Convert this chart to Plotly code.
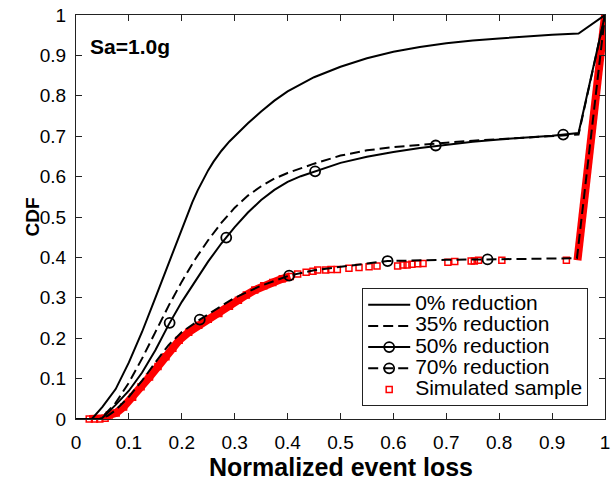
import plotly.graph_objects as go

# ---------------- data ----------------
x0 = [0, 0.03, 0.05, 0.075, 0.1, 0.125, 0.15, 0.175, 0.2, 0.21, 0.22, 0.23, 0.24, 0.25, 0.26,
      0.275, 0.29, 0.3, 0.325, 0.35, 0.375, 0.4, 0.45, 0.5, 0.55, 0.6, 0.65, 0.7, 0.75, 0.8,
      0.85, 0.9, 0.95, 1.0]
y0 = [0, 0, 0.03, 0.074, 0.14, 0.216, 0.30, 0.385, 0.47, 0.505, 0.537, 0.566, 0.593, 0.616, 0.637,
      0.664, 0.687, 0.70, 0.732, 0.761, 0.788, 0.811, 0.846, 0.872, 0.893, 0.909, 0.921, 0.93,
      0.937, 0.942, 0.947, 0.951, 0.954, 1.0]

x35 = [0, 0.045, 0.05, 0.075, 0.1, 0.125, 0.15, 0.175, 0.2, 0.225, 0.25, 0.275, 0.3, 0.325, 0.35,
       0.375, 0.4, 0.425, 0.45, 0.5, 0.55, 0.6, 0.65, 0.7, 0.75, 0.8, 0.85, 0.9, 0.95, 1.0]
y35 = [0, 0, 0.005, 0.04, 0.09, 0.15, 0.215, 0.28, 0.34, 0.395, 0.443, 0.486, 0.523, 0.553, 0.576,
       0.595, 0.609, 0.621, 0.632, 0.652, 0.665, 0.673, 0.679, 0.684, 0.689, 0.693, 0.697, 0.70,
       0.704, 1.0]

x50 = [0, 0.045, 0.05, 0.075, 0.1, 0.125, 0.15, 0.175, 0.2, 0.225, 0.25, 0.275, 0.3, 0.325, 0.35,
       0.375, 0.4, 0.425, 0.45, 0.475, 0.5, 0.55, 0.6, 0.65, 0.7, 0.75, 0.8, 0.85, 0.9, 0.95, 1.0]
y50 = [0, 0, 0.003, 0.035, 0.07, 0.115, 0.17, 0.233, 0.29, 0.34, 0.39, 0.435, 0.475, 0.511, 0.542,
       0.567, 0.587, 0.601, 0.612, 0.624, 0.634, 0.649, 0.661, 0.671, 0.679, 0.686, 0.692, 0.697,
       0.701, 0.708, 1.0]
x50_marks = [0.177, 0.284, 0.452, 0.68, 0.921]
y50_marks = [0.238, 0.449, 0.613, 0.677, 0.704]

x70 = [0, 0.045, 0.06, 0.075, 0.1, 0.125, 0.15, 0.175, 0.2, 0.234, 0.275, 0.3, 0.35, 0.403, 0.45,
       0.5, 0.55, 0.589, 0.65, 0.7, 0.778, 0.85, 0.947, 1.0]
y70 = [0, 0, 0.008, 0.022, 0.055, 0.095, 0.14, 0.183, 0.215, 0.246, 0.28, 0.30, 0.33, 0.355, 0.368,
       0.377, 0.385, 0.391, 0.393, 0.394, 0.395, 0.397, 0.398, 1.0]
x70_marks = [0.234, 0.403, 0.589, 0.778]
y70_marks = [0.246, 0.355, 0.391, 0.395]

# simulated sample: dense part (overlapping squares), sparse part, final jump
dense_x = [0.025, 0.035, 0.045, 0.055, 0.063, 0.076, 0.09, 0.107, 0.123, 0.139, 0.155, 0.17, 0.183,
           0.195, 0.213, 0.232, 0.25, 0.27, 0.29, 0.307, 0.322, 0.338, 0.355, 0.372, 0.39, 0.405]
dense_y = [0, 0, 0, 0.002, 0.01, 0.015, 0.03, 0.054, 0.08, 0.104, 0.13, 0.154, 0.175,
           0.195, 0.215, 0.232, 0.247, 0.261, 0.279, 0.294, 0.307, 0.319, 0.33, 0.338, 0.347, 0.353]
sparse_x = [0.419, 0.435, 0.448, 0.457, 0.472, 0.482, 0.494, 0.516, 0.535, 0.554, 0.569, 0.608,
            0.618, 0.626, 0.635, 0.646, 0.656, 0.703, 0.716, 0.747, 0.753, 0.761, 0.805, 0.927]
sparse_y = [0.359, 0.363, 0.366, 0.369, 0.369, 0.37, 0.37, 0.373, 0.375, 0.377, 0.379, 0.379,
            0.381, 0.381, 0.383, 0.384, 0.385, 0.388, 0.39, 0.391, 0.391, 0.393, 0.393, 0.393]
jump_x = [0.948, 1.0]
jump_y = [0.393, 1.0]

names = ["0% reduction", "35% reduction", "50% reduction", "70% reduction", "Simulated sample"]

RED = "#ff0000"
BLK = "black"
DASH = "10px,5px"
FONT = "Liberation Sans, Arial, sans-serif"


def lname(s):
    return "<span style='font-size:21px'>" + s + "</span>"


fig = go.Figure()

# simulated sample (drawn first, under the black curves)
fig.add_trace(go.Scatter(x=dense_x + [None] + jump_x, y=dense_y + [None] + jump_y, mode="lines",
                         line=dict(color=RED, width=8), showlegend=False, hoverinfo="skip"))
fig.add_trace(go.Scatter(x=dense_x + sparse_x, y=dense_y + sparse_y, mode="markers",
                         marker=dict(symbol="square-open", size=6, color=RED, line=dict(width=1.5, color=RED)),
                         name=lname(names[4]), legendrank=5, cliponaxis=False))

# 0% and 35%
fig.add_trace(go.Scatter(x=x0, y=y0, mode="lines", line=dict(color=BLK, width=2),
                         name=lname(names[0]), legendrank=1))
fig.add_trace(go.Scatter(x=x35, y=y35, mode="lines", line=dict(color=BLK, width=2, dash=DASH),
                         name=lname(names[1]), legendrank=2))

# 50%
circ = dict(symbol="circle-open", size=10, color=BLK, line=dict(width=1.8, color=BLK))
fig.add_trace(go.Scatter(x=x50, y=y50, mode="lines", line=dict(color=BLK, width=2),
                         showlegend=False))
fig.add_trace(go.Scatter(x=x50_marks, y=y50_marks, mode="markers", marker=circ, showlegend=False))
fig.add_trace(go.Scatter(x=[None], y=[None], mode="lines+markers", line=dict(color=BLK, width=2),
                         marker=circ, name=lname(names[2]), legendrank=3))

# 70%
fig.add_trace(go.Scatter(x=x70, y=y70, mode="lines", line=dict(color=BLK, width=2, dash=DASH),
                         showlegend=False))
fig.add_trace(go.Scatter(x=x70_marks, y=y70_marks, mode="markers", marker=circ, showlegend=False))
fig.add_trace(go.Scatter(x=[None], y=[None], mode="lines+markers",
                         line=dict(color=BLK, width=2, dash=DASH),
                         marker=circ, name=lname(names[3]), legendrank=4))

axis_common = dict(range=[0, 1], dtick=0.1, tick0=0, showgrid=False, zeroline=False,
                   showline=True, linecolor="#222", linewidth=1, mirror="ticks",
                   ticks="inside", ticklen=6, tickcolor="#222", ticklabeloverflow="allow",
                   tickfont=dict(family=FONT, size=19, color="black"))

fig.update_layout(
    width=614, height=480,
    margin=dict(l=76, r=4, t=15, b=61),
    paper_bgcolor="white", plot_bgcolor="white",
    xaxis=dict(axis_common, ticklabelstandoff=6),
    yaxis=dict(axis_common, ticklabelstandoff=5),
    font=dict(family=FONT, color="black"),
    legend=dict(x=0.541, y=0.324, xanchor="left", yanchor="top",
                bordercolor="#222", borderwidth=1, bgcolor="white",
                font=dict(family=FONT, size=14, color="black"),
                tracegroupgap=0, itemwidth=42),
    annotations=[
        dict(text="<b>Sa=1.0g</b>", x=0.022, y=0.922, xref="paper", yref="paper",
             xanchor="left", yanchor="middle", showarrow=False,
             font=dict(family=FONT, size=21, color="black")),
        dict(text="<b>Normalized event loss</b>", x=0.5, y=-0.12, xref="paper", yref="paper",
             xanchor="center", yanchor="middle", showarrow=False,
             font=dict(family=FONT, size=25, color="black")),
        dict(text="<b>CDF</b>", x=-0.0824, y=0.5, xref="paper", yref="paper", textangle=-90,
             xanchor="center", yanchor="middle", showarrow=False,
             font=dict(family=FONT, size=19, color="black")),
    ],
)

fig.write_html("out.html", config={"displayModeBar": False},
               post_script="document.body.style.margin='0px';")
